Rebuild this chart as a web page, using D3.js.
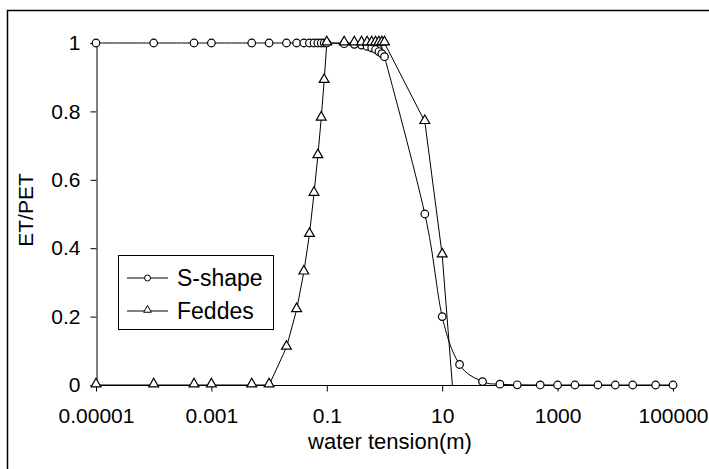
<!DOCTYPE html>
<html>
<head>
<meta charset="utf-8">
<script src="https://cdn.jsdelivr.net/npm/d3@7"></script>
<style>
  html, body { margin: 0; padding: 0; background: #fff; }
  svg { display: block; font-family: "Liberation Sans", Arial, sans-serif; }
</style>
</head>
<body>
<svg id="chart" width="709" height="469"></svg>
<script>
// Water tension (m) and relative transpiration ET/PET for the two reduction functions
const sShapeTension = [0.00001, 0.0001, 0.0005, 0.001, 0.005, 0.01, 0.02, 0.03, 0.04, 0.05,
  0.06, 0.07, 0.08, 0.09, 0.1, 0.2, 0.3, 0.4, 0.5, 0.6, 0.7, 0.8, 0.9, 1,
  5, 10, 20, 50, 100, 200, 500, 1000, 2000, 5000, 10000, 20000, 50000, 100000];
const sShapeRatio = [1, 1, 1, 1, 1, 1, 1, 1, 1, 1,
  1, 1, 1, 1, 1, 0.998, 0.996, 0.994, 0.99, 0.986, 0.981, 0.975, 0.969, 0.96,
  0.5, 0.2, 0.06, 0.01, 0.0025, 0.0006, 0.0001, 0, 0, 0, 0, 0, 0, 0];

const feddesTension = [0.00001, 0.0001, 0.0005, 0.001, 0.005, 0.01, 0.02, 0.03, 0.04, 0.05,
  0.06, 0.07, 0.08, 0.09, 0.1, 0.2, 0.3, 0.4, 0.5, 0.6, 0.7, 0.8, 0.9, 1,
  5, 10, 15];
const feddesRatio = [0, 0, 0, 0, 0, 0, 0.11, 0.22, 0.33, 0.44,
  0.56, 0.67, 0.78, 0.89, 1, 1, 1, 1, 1, 1, 1, 1, 1, 1,
  0.77, 0.38, 0];

const seriesNames = ["S-shape", "Feddes"];
const xTickValues = [0.00001, 0.001, 0.1, 10, 1000, 100000];
const xTickLabels = ["0.00001", "0.001", "0.1", "10", "1000", "100000"];
const yTickValues = [0, 0.2, 0.4, 0.6, 0.8, 1];
const yTickLabels = ["0", "0.2", "0.4", "0.6", "0.8", "1"];
const xTitle = "water tension(m)";
const yTitle = "ET/PET";

const svg = d3.select("#chart");

// chart-area frame
svg.append("rect")
  .attr("x", 7.5).attr("y", 10.5)
  .attr("width", 760).attr("height", 520)
  .attr("fill", "#fff").attr("stroke", "#000").attr("stroke-width", 1.5);

const x = d3.scaleLog().domain([0.00001, 100000]).range([96, 673]);
const y = d3.scaleLinear().domain([0, 1]).range([385, 43]);

// axes
const xAxis = svg.append("g")
  .attr("transform", "translate(0,385.5)")
  .call(d3.axisBottom(x)
    .tickValues(xTickValues)
    .tickFormat((d, i) => xTickLabels[i])
    .tickSize(6).tickPadding(17));

const yAxis = svg.append("g")
  .attr("transform", "translate(96.5,0)")
  .call(d3.axisLeft(y)
    .tickValues(yTickValues)
    .tickFormat((d, i) => yTickLabels[i])
    .tickSize(6).tickPadding(10));

[xAxis, yAxis].forEach(g => {
  g.select(".domain").attr("stroke", "#000").attr("stroke-width", 1);
  g.selectAll(".tick line").attr("stroke", "#000");
  g.selectAll(".tick text")
    .attr("fill", "#000")
    .style("font-family", "'Liberation Sans', Arial, sans-serif")
    .style("font-size", "21px");
});
xAxis.select(".domain").attr("d", `M96,0H673`);

// axis titles
svg.append("text")
  .attr("x", 390).attr("y", 449)
  .attr("text-anchor", "middle")
  .style("font-size", "22px")
  .text(xTitle);

svg.append("text")
  .attr("transform", "translate(33,210) rotate(-90)")
  .attr("text-anchor", "middle")
  .style("font-size", "21px")
  .text(yTitle);

// series
const sShape = sShapeTension.map((t, i) => ({ t, v: sShapeRatio[i] }));
const feddes = feddesTension.map((t, i) => ({ t, v: feddesRatio[i] }));

// S-shape drawn as a smoothed line, Feddes as straight segments
const smoothLine = d3.line()
  .x(d => x(d.t))
  .y(d => y(d.v))
  .curve(d3.curveCardinal.tension(0));
const straightLine = d3.line()
  .x(d => x(d.t))
  .y(d => y(d.v));

svg.append("path").datum(sShape)
  .attr("d", smoothLine).attr("fill", "none")
  .attr("stroke", "#000").attr("stroke-width", 1);
svg.append("path").datum(feddes)
  .attr("d", straightLine).attr("fill", "none")
  .attr("stroke", "#000").attr("stroke-width", 1);

const tri = d3.symbol().type(d3.symbolTriangle).size(42);

svg.append("g").selectAll("circle")
  .data(sShape)
  .join("circle")
  .attr("cx", d => x(d.t)).attr("cy", d => y(d.v))
  .attr("r", 3.8)
  .attr("fill", "#fff").attr("stroke", "#000").attr("stroke-width", 1.2);

svg.append("g").selectAll("path")
  .data(feddes.filter(d => d.t < 15))
  .join("path")
  .attr("d", tri)
  .attr("transform", d => `translate(${x(d.t)},${y(d.v) - 1})`)
  .attr("fill", "#fff").attr("stroke", "#000").attr("stroke-width", 1.2);

// legend
const legend = svg.append("g");
legend.append("rect")
  .attr("x", 118.5).attr("y", 255.5)
  .attr("width", 155).attr("height", 74)
  .attr("fill", "#fff").attr("stroke", "#000").attr("stroke-width", 1);

const rows = [
  { name: seriesNames[0], cy: 278, shape: "circle" },
  { name: seriesNames[1], cy: 311, shape: "triangle" }
];
rows.forEach(r => {
  legend.append("line")
    .attr("x1", 127).attr("x2", 168)
    .attr("y1", r.cy).attr("y2", r.cy)
    .attr("stroke", "#000").attr("stroke-width", 1);
  if (r.shape === "circle") {
    legend.append("circle")
      .attr("cx", 147.5).attr("cy", r.cy).attr("r", 3)
      .attr("fill", "#fff").attr("stroke", "#000").attr("stroke-width", 1);
  } else {
    legend.append("path")
      .attr("d", d3.symbol().type(d3.symbolTriangle).size(26))
      .attr("transform", `translate(147.5,${r.cy - 1})`)
      .attr("fill", "#fff").attr("stroke", "#000").attr("stroke-width", 1);
  }
  legend.append("text")
    .attr("x", 177).attr("y", r.cy + 8)
    .style("font-size", "23px")
    .text(r.name);
});
</script>
</body>
</html>
